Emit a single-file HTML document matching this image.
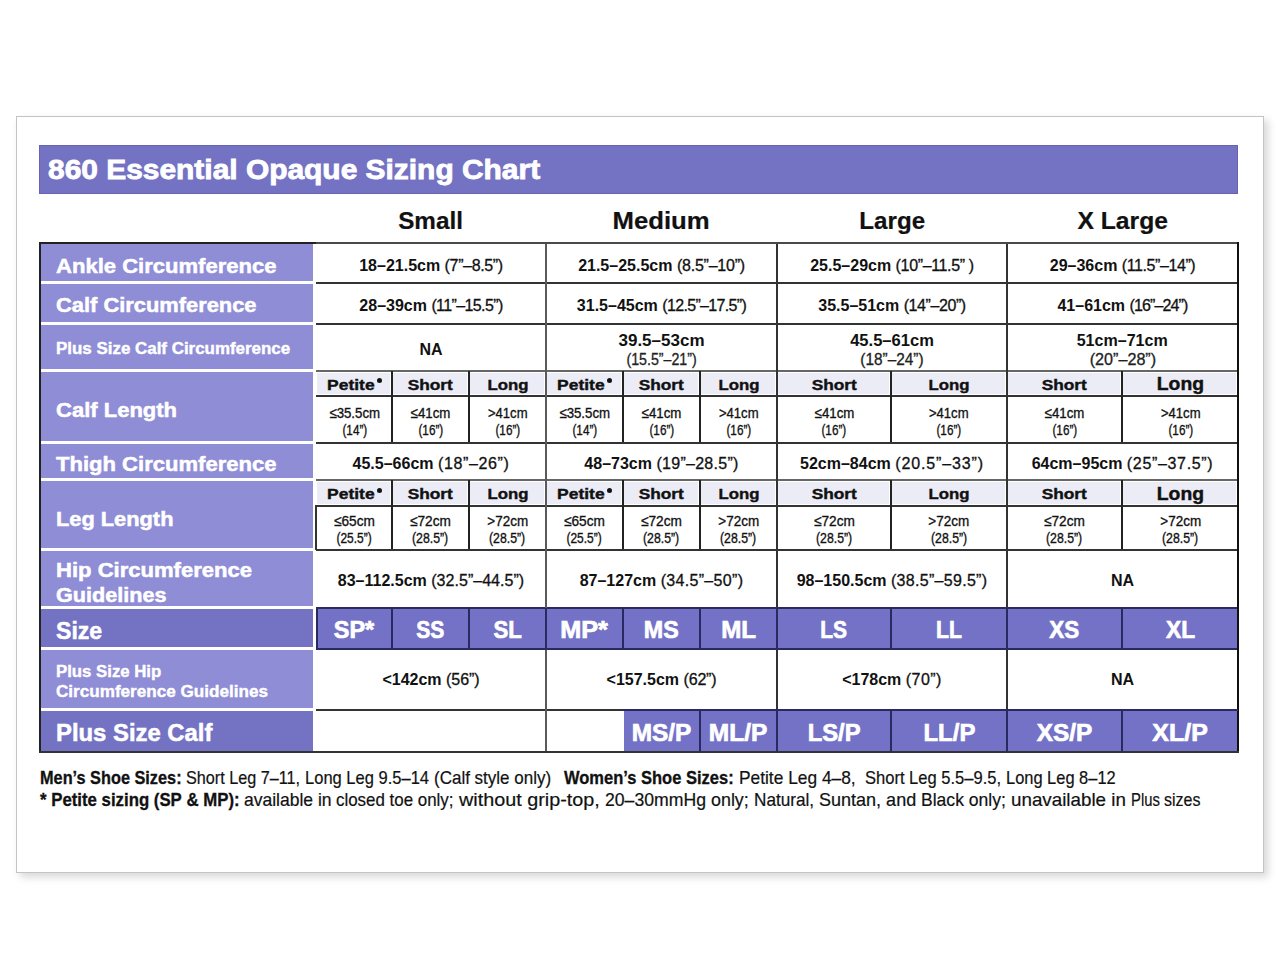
<!DOCTYPE html>
<html><head><meta charset="utf-8"><title>860 Essential Opaque Sizing Chart</title>
<style>
html,body{margin:0;padding:0;background:#fff;}
body{width:1280px;height:959px;position:relative;overflow:hidden;font-family:"Liberation Sans",sans-serif;}
.a{position:absolute;}
.t{white-space:nowrap;}
b{font-weight:700;}
</style></head><body>
<div class="a" style="left:16px;top:116px;width:1246px;height:755px;border:1px solid #c4c4c4;background:#fff;box-shadow:4px 4px 8px rgba(0,0,0,0.16);"></div>
<div class="a" style="left:39px;top:145px;width:1199px;height:49px;background:#7472c3;box-shadow:inset 0 0 0 1px #6664b2;"></div>
<div class="a t" style="left:47.50px;top:153.64px;font-size:27px;line-height:32px;font-weight:700;color:#fff;-webkit-text-stroke:0.8px #fff;"><span style="display:inline-block;letter-spacing:0.000px;transform:scaleX(1.1080);transform-origin:0 50%">860 Essential Opaque Sizing Chart</span></div>
<div class="a t" style="left:131.00px;top:206.04px;width:600px;text-align:center;font-size:24.4px;line-height:29px;font-weight:700;color:#111;-webkit-text-stroke:0.2px #111;"><span style="display:inline-block;letter-spacing:0.000px;text-indent:0.000px;transform:scaleX(0.9947);transform-origin:50% 50%">Small</span></div>
<div class="a t" style="left:361.50px;top:206.04px;width:600px;text-align:center;font-size:24.4px;line-height:29px;font-weight:700;color:#111;-webkit-text-stroke:0.2px #111;"><span style="display:inline-block;letter-spacing:0.000px;text-indent:0.000px;transform:scaleX(1.0548);transform-origin:50% 50%">Medium</span></div>
<div class="a t" style="left:592.00px;top:206.04px;width:600px;text-align:center;font-size:24.4px;line-height:29px;font-weight:700;color:#111;-webkit-text-stroke:0.2px #111;"><span style="display:inline-block;letter-spacing:0.000px;text-indent:0.000px;transform:scaleX(0.9897);transform-origin:50% 50%">Large</span></div>
<div class="a t" style="left:822.50px;top:206.04px;width:600px;text-align:center;font-size:24.4px;line-height:29px;font-weight:700;color:#111;-webkit-text-stroke:0.2px #111;"><span style="display:inline-block;letter-spacing:0.000px;text-indent:0.000px;transform:scaleX(1.0117);transform-origin:50% 50%">X Large</span></div>
<div class="a" style="left:41px;top:244px;width:272px;height:37px;background:#8f8dd6;"></div>
<div class="a" style="left:41px;top:284px;width:272px;height:38px;background:#8f8dd6;"></div>
<div class="a" style="left:41px;top:325px;width:272px;height:44px;background:#8f8dd6;"></div>
<div class="a" style="left:41px;top:372px;width:272px;height:69px;background:#8f8dd6;"></div>
<div class="a" style="left:41px;top:444px;width:272px;height:34px;background:#8f8dd6;"></div>
<div class="a" style="left:41px;top:481px;width:272px;height:67px;background:#8f8dd6;"></div>
<div class="a" style="left:41px;top:551px;width:272px;height:55px;background:#8f8dd6;"></div>
<div class="a" style="left:41px;top:609px;width:272px;height:38px;background:#7472c3;"></div>
<div class="a" style="left:41px;top:650px;width:272px;height:58px;background:#8f8dd6;"></div>
<div class="a" style="left:41px;top:711px;width:272px;height:40px;background:#7472c3;"></div>
<div class="a" style="left:317px;top:373px;width:73px;height:21px;background:#ececf7;"></div>
<div class="a" style="left:393px;top:373px;width:74px;height:21px;background:#ececf7;"></div>
<div class="a" style="left:470px;top:373px;width:74px;height:21px;background:#ececf7;"></div>
<div class="a" style="left:547px;top:373px;width:74px;height:21px;background:#ececf7;"></div>
<div class="a" style="left:624px;top:373px;width:74px;height:21px;background:#ececf7;"></div>
<div class="a" style="left:701px;top:373px;width:74px;height:21px;background:#ececf7;"></div>
<div class="a" style="left:778px;top:373px;width:111px;height:21px;background:#ececf7;"></div>
<div class="a" style="left:892px;top:373px;width:113px;height:21px;background:#ececf7;"></div>
<div class="a" style="left:1008px;top:373px;width:112px;height:21px;background:#ececf7;"></div>
<div class="a" style="left:1123px;top:373px;width:113px;height:21px;background:#ececf7;"></div>
<div class="a" style="left:317px;top:482px;width:73px;height:22px;background:#ececf7;"></div>
<div class="a" style="left:393px;top:482px;width:74px;height:22px;background:#ececf7;"></div>
<div class="a" style="left:470px;top:482px;width:74px;height:22px;background:#ececf7;"></div>
<div class="a" style="left:547px;top:482px;width:74px;height:22px;background:#ececf7;"></div>
<div class="a" style="left:624px;top:482px;width:74px;height:22px;background:#ececf7;"></div>
<div class="a" style="left:701px;top:482px;width:74px;height:22px;background:#ececf7;"></div>
<div class="a" style="left:778px;top:482px;width:111px;height:22px;background:#ececf7;"></div>
<div class="a" style="left:892px;top:482px;width:113px;height:22px;background:#ececf7;"></div>
<div class="a" style="left:1008px;top:482px;width:112px;height:22px;background:#ececf7;"></div>
<div class="a" style="left:1123px;top:482px;width:113px;height:22px;background:#ececf7;"></div>
<div class="a" style="left:317px;top:609px;width:74px;height:39px;background:#7472c6;"></div>
<div class="a" style="left:393px;top:609px;width:75px;height:39px;background:#7472c6;"></div>
<div class="a" style="left:470px;top:609px;width:75px;height:39px;background:#7472c6;"></div>
<div class="a" style="left:547px;top:609px;width:75px;height:39px;background:#7472c6;"></div>
<div class="a" style="left:624px;top:609px;width:75px;height:39px;background:#7472c6;"></div>
<div class="a" style="left:701px;top:609px;width:75px;height:39px;background:#7472c6;"></div>
<div class="a" style="left:778px;top:609px;width:112px;height:39px;background:#7472c6;"></div>
<div class="a" style="left:892px;top:609px;width:114px;height:39px;background:#7472c6;"></div>
<div class="a" style="left:1008px;top:609px;width:113px;height:39px;background:#7472c6;"></div>
<div class="a" style="left:1123px;top:609px;width:114px;height:39px;background:#7472c6;"></div>
<div class="a" style="left:624px;top:711px;width:75px;height:40px;background:#7472c6;"></div>
<div class="a" style="left:701px;top:711px;width:75px;height:40px;background:#7472c6;"></div>
<div class="a" style="left:778px;top:711px;width:112px;height:40px;background:#7472c6;"></div>
<div class="a" style="left:892px;top:711px;width:114px;height:40px;background:#7472c6;"></div>
<div class="a" style="left:1008px;top:711px;width:113px;height:40px;background:#7472c6;"></div>
<div class="a" style="left:1123px;top:711px;width:114px;height:40px;background:#7472c6;"></div>
<div class="a" style="left:316px;top:282px;width:922px;height:2px;background:#333;"></div>
<div class="a" style="left:316px;top:323px;width:922px;height:2px;background:#333;"></div>
<div class="a" style="left:316px;top:370px;width:922px;height:2px;background:#666;"></div>
<div class="a" style="left:316px;top:442px;width:922px;height:2px;background:#333;"></div>
<div class="a" style="left:316px;top:479px;width:922px;height:2px;background:#666;"></div>
<div class="a" style="left:316px;top:549px;width:922px;height:2px;background:#333;"></div>
<div class="a" style="left:316px;top:607px;width:922px;height:2px;background:#2a2960;"></div>
<div class="a" style="left:316px;top:648px;width:922px;height:2px;background:#2a2960;"></div>
<div class="a" style="left:316px;top:709px;width:922px;height:2px;background:#333;"></div>
<div class="a" style="left:316px;top:395px;width:922px;height:2px;background:#333;"></div>
<div class="a" style="left:316px;top:505px;width:922px;height:2px;background:#333;"></div>
<div class="a" style="left:39px;top:242px;width:277px;height:2px;background:#222;"></div>
<div class="a" style="left:316px;top:242px;width:922px;height:2px;background:#4a4a4a;"></div>
<div class="a" style="left:39px;top:242px;width:2px;height:511px;background:#222;"></div>
<div class="a" style="left:1237px;top:242px;width:2px;height:511px;background:#111;"></div>
<div class="a" style="left:39px;top:751px;width:1200px;height:2px;background:#333;"></div>
<div class="a" style="left:545px;top:244px;width:2px;height:507px;background:#5a5a5a;"></div>
<div class="a" style="left:776px;top:244px;width:2px;height:507px;background:#333;"></div>
<div class="a" style="left:1006px;top:244px;width:2px;height:507px;background:#333;"></div>
<div class="a" style="left:391px;top:371px;width:2px;height:71px;background:#222;"></div>
<div class="a" style="left:468px;top:371px;width:2px;height:71px;background:#222;"></div>
<div class="a" style="left:622px;top:371px;width:2px;height:71px;background:#222;"></div>
<div class="a" style="left:699px;top:371px;width:2px;height:71px;background:#222;"></div>
<div class="a" style="left:890px;top:371px;width:2px;height:71px;background:#222;"></div>
<div class="a" style="left:1121px;top:371px;width:2px;height:71px;background:#222;"></div>
<div class="a" style="left:391px;top:480px;width:2px;height:69px;background:#222;"></div>
<div class="a" style="left:468px;top:480px;width:2px;height:69px;background:#222;"></div>
<div class="a" style="left:622px;top:480px;width:2px;height:69px;background:#222;"></div>
<div class="a" style="left:699px;top:480px;width:2px;height:69px;background:#222;"></div>
<div class="a" style="left:890px;top:480px;width:2px;height:69px;background:#222;"></div>
<div class="a" style="left:1121px;top:480px;width:2px;height:69px;background:#222;"></div>
<div class="a" style="left:391px;top:608px;width:2px;height:42px;background:#2a2960;"></div>
<div class="a" style="left:468px;top:608px;width:2px;height:42px;background:#2a2960;"></div>
<div class="a" style="left:622px;top:608px;width:2px;height:42px;background:#2a2960;"></div>
<div class="a" style="left:699px;top:608px;width:2px;height:42px;background:#2a2960;"></div>
<div class="a" style="left:890px;top:608px;width:2px;height:42px;background:#2a2960;"></div>
<div class="a" style="left:1121px;top:608px;width:2px;height:42px;background:#2a2960;"></div>
<div class="a" style="left:699px;top:710px;width:2px;height:42px;background:#2a2960;"></div>
<div class="a" style="left:890px;top:710px;width:2px;height:42px;background:#2a2960;"></div>
<div class="a" style="left:1121px;top:710px;width:2px;height:42px;background:#2a2960;"></div>
<div class="a" style="left:622px;top:709px;width:616px;height:2px;background:#2a2960;"></div>
<div class="a" style="left:545px;top:608px;width:2px;height:42px;background:#2a2960;"></div>
<div class="a" style="left:776px;top:608px;width:2px;height:42px;background:#2a2960;"></div>
<div class="a" style="left:1006px;top:608px;width:2px;height:42px;background:#2a2960;"></div>
<div class="a" style="left:776px;top:710px;width:2px;height:42px;background:#2a2960;"></div>
<div class="a" style="left:1006px;top:710px;width:2px;height:42px;background:#2a2960;"></div>
<div class="a" style="left:315px;top:505px;width:2px;height:45px;background:#333;"></div>
<div class="a" style="left:316px;top:607px;width:2px;height:42px;background:#2a2960;"></div>
<div class="a t" style="left:56.00px;top:252.72px;font-size:21px;line-height:25px;font-weight:700;color:#fff;-webkit-text-stroke:0.5px #fff;"><span style="display:inline-block;letter-spacing:0.000px;transform:scaleX(1.0494);transform-origin:0 50%">Ankle Circumference</span></div>
<div class="a t" style="left:56.00px;top:292.22px;font-size:21px;line-height:25px;font-weight:700;color:#fff;-webkit-text-stroke:0.5px #fff;"><span style="display:inline-block;letter-spacing:0.000px;transform:scaleX(1.0411);transform-origin:0 50%">Calf Circumference</span></div>
<div class="a t" style="left:56.00px;top:339.02px;font-size:15.8px;line-height:19px;font-weight:700;color:#fff;-webkit-text-stroke:0.4px #fff;"><span style="display:inline-block;letter-spacing:0.000px;transform:scaleX(1.0713);transform-origin:0 50%">Plus Size Calf Circumference</span></div>
<div class="a t" style="left:56.00px;top:396.52px;font-size:21px;line-height:25px;font-weight:700;color:#fff;-webkit-text-stroke:0.5px #fff;"><span style="display:inline-block;letter-spacing:0.000px;transform:scaleX(1.0483);transform-origin:0 50%">Calf Length</span></div>
<div class="a t" style="left:56.00px;top:451.22px;font-size:21px;line-height:25px;font-weight:700;color:#fff;-webkit-text-stroke:0.5px #fff;"><span style="display:inline-block;letter-spacing:0.000px;transform:scaleX(1.0499);transform-origin:0 50%">Thigh Circumference</span></div>
<div class="a t" style="left:56.00px;top:505.52px;font-size:21px;line-height:25px;font-weight:700;color:#fff;-webkit-text-stroke:0.5px #fff;"><span style="display:inline-block;letter-spacing:0.000px;transform:scaleX(1.0379);transform-origin:0 50%">Leg Length</span></div>
<div class="a t" style="left:56.00px;top:558.47px;font-size:20px;line-height:24px;font-weight:700;color:#fff;-webkit-text-stroke:0.5px #fff;"><span style="display:inline-block;letter-spacing:0.000px;transform:scaleX(1.1021);transform-origin:0 50%">Hip Circumference</span></div>
<div class="a t" style="left:56.00px;top:582.97px;font-size:20px;line-height:24px;font-weight:700;color:#fff;-webkit-text-stroke:0.5px #fff;"><span style="display:inline-block;letter-spacing:0.000px;transform:scaleX(1.0808);transform-origin:0 50%">Guidelines</span></div>
<div class="a t" style="left:56.00px;top:616.01px;font-size:24.5px;line-height:29px;font-weight:700;color:#fff;-webkit-text-stroke:0.5px #fff;"><span style="display:inline-block;letter-spacing:0.000px;transform:scaleX(0.9414);transform-origin:0 50%">Size</span></div>
<div class="a t" style="left:56.00px;top:661.55px;font-size:16px;line-height:19px;font-weight:700;color:#fff;-webkit-text-stroke:0.4px #fff;"><span style="display:inline-block;letter-spacing:0.000px;transform:scaleX(1.0478);transform-origin:0 50%">Plus Size Hip</span></div>
<div class="a t" style="left:56.00px;top:682.35px;font-size:16px;line-height:19px;font-weight:700;color:#fff;-webkit-text-stroke:0.4px #fff;"><span style="display:inline-block;letter-spacing:0.000px;transform:scaleX(1.0688);transform-origin:0 50%">Circumference Guidelines</span></div>
<div class="a t" style="left:56.00px;top:718.92px;font-size:23.3px;line-height:28px;font-weight:700;color:#fff;-webkit-text-stroke:0.5px #fff;"><span style="display:inline-block;letter-spacing:0.000px;transform:scaleX(1.0238);transform-origin:0 50%">Plus Size Calf</span></div>
<div class="a t" style="left:131.00px;top:255.65px;width:600px;text-align:center;font-size:16px;line-height:19px;color:#111"><span style="font-weight:700;letter-spacing:0.000px;">18–21.5cm</span> <span style="font-weight:400;font-size:16px;letter-spacing:-0.352px;-webkit-text-stroke:0.3px #111;">(7”–8.5”)</span></div>
<div class="a t" style="left:361.50px;top:255.65px;width:600px;text-align:center;font-size:16px;line-height:19px;color:#111"><span style="font-weight:700;letter-spacing:0.000px;">21.5–25.5cm</span> <span style="font-weight:400;font-size:16px;letter-spacing:-0.229px;-webkit-text-stroke:0.3px #111;">(8.5”–10”)</span></div>
<div class="a t" style="left:592.00px;top:255.65px;width:600px;text-align:center;font-size:16px;line-height:19px;color:#111"><span style="font-weight:700;letter-spacing:0.000px;">25.5–29cm</span> <span style="font-weight:400;font-size:16px;letter-spacing:-0.351px;-webkit-text-stroke:0.3px #111;">(10”–11.5” )</span></div>
<div class="a t" style="left:822.50px;top:255.65px;width:600px;text-align:center;font-size:16px;line-height:19px;color:#111"><span style="font-weight:700;letter-spacing:0.000px;">29–36cm</span> <span style="font-weight:400;font-size:16px;letter-spacing:-0.410px;-webkit-text-stroke:0.3px #111;">(11.5”–14”)</span></div>
<div class="a t" style="left:131.00px;top:295.55px;width:600px;text-align:center;font-size:16px;line-height:19px;color:#111"><span style="font-weight:700;letter-spacing:0.000px;">28–39cm</span> <span style="font-weight:400;font-size:16px;letter-spacing:-0.610px;-webkit-text-stroke:0.3px #111;">(11”–15.5”)</span></div>
<div class="a t" style="left:361.50px;top:295.55px;width:600px;text-align:center;font-size:16px;line-height:19px;color:#111"><span style="font-weight:700;letter-spacing:0.000px;">31.5–45cm</span> <span style="font-weight:400;font-size:16px;letter-spacing:-0.662px;-webkit-text-stroke:0.3px #111;">(12.5”–17.5”)</span></div>
<div class="a t" style="left:592.00px;top:295.55px;width:600px;text-align:center;font-size:16px;line-height:19px;color:#111"><span style="font-weight:700;letter-spacing:0.000px;">35.5–51cm</span> <span style="font-weight:400;font-size:16px;letter-spacing:-0.412px;-webkit-text-stroke:0.3px #111;">(14”–20”)</span></div>
<div class="a t" style="left:822.50px;top:295.55px;width:600px;text-align:center;font-size:16px;line-height:19px;color:#111"><span style="font-weight:700;letter-spacing:0.000px;">41–61cm</span> <span style="font-weight:400;font-size:16px;letter-spacing:-0.867px;-webkit-text-stroke:0.3px #111;">(16”–24”)</span></div>
<div class="a t" style="left:131.00px;top:339.85px;width:600px;text-align:center;font-size:16px;line-height:19px;font-weight:700;color:#111;"><span style="display:inline-block;letter-spacing:0.000px;text-indent:0.000px;transform-origin:50% 50%">NA</span></div>
<div class="a t" style="left:361.50px;top:330.51px;width:600px;text-align:center;font-size:17px;line-height:20px;font-weight:700;color:#111;"><span style="display:inline-block;letter-spacing:0.000px;text-indent:0.000px;transform-origin:50% 50%">39.5–53cm</span></div>
<div class="a t" style="left:361.50px;top:349.75px;width:600px;text-align:center;font-size:16px;line-height:19px;font-weight:400;color:#222;-webkit-text-stroke:0.3px #222;"><span style="display:inline-block;letter-spacing:0.000px;text-indent:0.000px;transform:scaleX(0.8877);transform-origin:50% 50%">(15.5”–21”)</span></div>
<div class="a t" style="left:592.00px;top:330.51px;width:600px;text-align:center;font-size:17px;line-height:20px;font-weight:700;color:#111;"><span style="display:inline-block;letter-spacing:0.000px;text-indent:0.000px;transform:scaleX(0.9730);transform-origin:50% 50%">45.5–61cm</span></div>
<div class="a t" style="left:592.00px;top:349.75px;width:600px;text-align:center;font-size:16px;line-height:19px;font-weight:400;color:#222;-webkit-text-stroke:0.3px #222;"><span style="display:inline-block;letter-spacing:0.000px;text-indent:0.000px;transform:scaleX(0.9601);transform-origin:50% 50%">(18”–24”)</span></div>
<div class="a t" style="left:822.50px;top:330.51px;width:600px;text-align:center;font-size:17px;line-height:20px;font-weight:700;color:#111;"><span style="display:inline-block;letter-spacing:0.000px;text-indent:0.000px;transform:scaleX(0.9441);transform-origin:50% 50%">51cm–71cm</span></div>
<div class="a t" style="left:822.50px;top:349.75px;width:600px;text-align:center;font-size:16px;line-height:19px;font-weight:400;color:#222;-webkit-text-stroke:0.3px #222;"><span style="display:inline-block;letter-spacing:0.000px;text-indent:0.000px;transform:scaleX(1.0100);transform-origin:50% 50%">(20”–28”)</span></div>
<div class="a t" style="left:326.60px;top:374.53px;font-size:15.5px;line-height:19px;font-weight:700;color:#111;-webkit-text-stroke:0.4px #111;"><span style="display:inline-block;letter-spacing:0.000px;transform:scaleX(1.1281);transform-origin:0 50%">Petite</span></div>
<div class="a" style="left:376.70px;top:378.10px;width:5px;height:5px;border-radius:50%;background:#111"></div>
<div class="a t" style="left:130.50px;top:374.53px;width:600px;text-align:center;font-size:15.5px;line-height:19px;font-weight:700;color:#111;-webkit-text-stroke:0.4px #111;"><span style="display:inline-block;letter-spacing:0.000px;text-indent:0.000px;transform:scaleX(1.1161);transform-origin:50% 50%">Short</span></div>
<div class="a t" style="left:207.50px;top:374.53px;width:600px;text-align:center;font-size:15.5px;line-height:19px;font-weight:700;color:#111;-webkit-text-stroke:0.4px #111;"><span style="display:inline-block;letter-spacing:0.000px;text-indent:0.000px;transform:scaleX(1.0836);transform-origin:50% 50%">Long</span></div>
<div class="a t" style="left:556.80px;top:374.53px;font-size:15.5px;line-height:19px;font-weight:700;color:#111;-webkit-text-stroke:0.4px #111;"><span style="display:inline-block;letter-spacing:0.000px;transform:scaleX(1.1281);transform-origin:0 50%">Petite</span></div>
<div class="a" style="left:606.90px;top:378.10px;width:5px;height:5px;border-radius:50%;background:#111"></div>
<div class="a t" style="left:361.50px;top:374.53px;width:600px;text-align:center;font-size:15.5px;line-height:19px;font-weight:700;color:#111;-webkit-text-stroke:0.4px #111;"><span style="display:inline-block;letter-spacing:0.000px;text-indent:0.000px;transform:scaleX(1.1161);transform-origin:50% 50%">Short</span></div>
<div class="a t" style="left:438.50px;top:374.53px;width:600px;text-align:center;font-size:15.5px;line-height:19px;font-weight:700;color:#111;-webkit-text-stroke:0.4px #111;"><span style="display:inline-block;letter-spacing:0.000px;text-indent:0.000px;transform:scaleX(1.0836);transform-origin:50% 50%">Long</span></div>
<div class="a t" style="left:534.00px;top:374.53px;width:600px;text-align:center;font-size:15.5px;line-height:19px;font-weight:700;color:#111;-webkit-text-stroke:0.4px #111;"><span style="display:inline-block;letter-spacing:0.000px;text-indent:0.000px;transform:scaleX(1.1161);transform-origin:50% 50%">Short</span></div>
<div class="a t" style="left:649.00px;top:374.53px;width:600px;text-align:center;font-size:15.5px;line-height:19px;font-weight:700;color:#111;-webkit-text-stroke:0.4px #111;"><span style="display:inline-block;letter-spacing:0.000px;text-indent:0.000px;transform:scaleX(1.0836);transform-origin:50% 50%">Long</span></div>
<div class="a t" style="left:764.50px;top:374.53px;width:600px;text-align:center;font-size:15.5px;line-height:19px;font-weight:700;color:#111;-webkit-text-stroke:0.4px #111;"><span style="display:inline-block;letter-spacing:0.000px;text-indent:0.000px;transform:scaleX(1.1161);transform-origin:50% 50%">Short</span></div>
<div class="a t" style="left:880.50px;top:374.33px;width:600px;text-align:center;font-size:17.5px;line-height:21px;font-weight:700;color:#111;-webkit-text-stroke:0.4px #111;"><span style="display:inline-block;letter-spacing:0.000px;text-indent:0.000px;transform:scaleX(1.1045);transform-origin:50% 50%">Long</span></div>
<div class="a t" style="left:326.60px;top:484.43px;font-size:15.5px;line-height:19px;font-weight:700;color:#111;-webkit-text-stroke:0.4px #111;"><span style="display:inline-block;letter-spacing:0.000px;transform:scaleX(1.1281);transform-origin:0 50%">Petite</span></div>
<div class="a" style="left:376.70px;top:488.00px;width:5px;height:5px;border-radius:50%;background:#111"></div>
<div class="a t" style="left:130.50px;top:484.43px;width:600px;text-align:center;font-size:15.5px;line-height:19px;font-weight:700;color:#111;-webkit-text-stroke:0.4px #111;"><span style="display:inline-block;letter-spacing:0.000px;text-indent:0.000px;transform:scaleX(1.1161);transform-origin:50% 50%">Short</span></div>
<div class="a t" style="left:207.50px;top:484.43px;width:600px;text-align:center;font-size:15.5px;line-height:19px;font-weight:700;color:#111;-webkit-text-stroke:0.4px #111;"><span style="display:inline-block;letter-spacing:0.000px;text-indent:0.000px;transform:scaleX(1.0836);transform-origin:50% 50%">Long</span></div>
<div class="a t" style="left:556.80px;top:484.43px;font-size:15.5px;line-height:19px;font-weight:700;color:#111;-webkit-text-stroke:0.4px #111;"><span style="display:inline-block;letter-spacing:0.000px;transform:scaleX(1.1281);transform-origin:0 50%">Petite</span></div>
<div class="a" style="left:606.90px;top:488.00px;width:5px;height:5px;border-radius:50%;background:#111"></div>
<div class="a t" style="left:361.50px;top:484.43px;width:600px;text-align:center;font-size:15.5px;line-height:19px;font-weight:700;color:#111;-webkit-text-stroke:0.4px #111;"><span style="display:inline-block;letter-spacing:0.000px;text-indent:0.000px;transform:scaleX(1.1161);transform-origin:50% 50%">Short</span></div>
<div class="a t" style="left:438.50px;top:484.43px;width:600px;text-align:center;font-size:15.5px;line-height:19px;font-weight:700;color:#111;-webkit-text-stroke:0.4px #111;"><span style="display:inline-block;letter-spacing:0.000px;text-indent:0.000px;transform:scaleX(1.0836);transform-origin:50% 50%">Long</span></div>
<div class="a t" style="left:534.00px;top:484.43px;width:600px;text-align:center;font-size:15.5px;line-height:19px;font-weight:700;color:#111;-webkit-text-stroke:0.4px #111;"><span style="display:inline-block;letter-spacing:0.000px;text-indent:0.000px;transform:scaleX(1.1161);transform-origin:50% 50%">Short</span></div>
<div class="a t" style="left:649.00px;top:484.43px;width:600px;text-align:center;font-size:15.5px;line-height:19px;font-weight:700;color:#111;-webkit-text-stroke:0.4px #111;"><span style="display:inline-block;letter-spacing:0.000px;text-indent:0.000px;transform:scaleX(1.0836);transform-origin:50% 50%">Long</span></div>
<div class="a t" style="left:764.50px;top:484.43px;width:600px;text-align:center;font-size:15.5px;line-height:19px;font-weight:700;color:#111;-webkit-text-stroke:0.4px #111;"><span style="display:inline-block;letter-spacing:0.000px;text-indent:0.000px;transform:scaleX(1.1161);transform-origin:50% 50%">Short</span></div>
<div class="a t" style="left:880.50px;top:484.23px;width:600px;text-align:center;font-size:17.5px;line-height:21px;font-weight:700;color:#111;-webkit-text-stroke:0.4px #111;"><span style="display:inline-block;letter-spacing:0.000px;text-indent:0.000px;transform:scaleX(1.1045);transform-origin:50% 50%">Long</span></div>
<div class="a t" style="left:54.50px;top:403.90px;width:600px;text-align:center;font-size:15px;line-height:18px;font-weight:400;color:#111;-webkit-text-stroke:0.35px #111;"><span style="display:inline-block;letter-spacing:0.000px;text-indent:0.000px;transform:scaleX(0.8824);transform-origin:50% 50%">≤35.5cm</span></div>
<div class="a t" style="left:54.50px;top:421.40px;width:600px;text-align:center;font-size:15px;line-height:18px;font-weight:400;color:#111;-webkit-text-stroke:0.35px #111;"><span style="display:inline-block;letter-spacing:0.000px;text-indent:0.000px;transform:scaleX(0.7812);transform-origin:50% 50%">(14”)</span></div>
<div class="a t" style="left:130.50px;top:403.90px;width:600px;text-align:center;font-size:15px;line-height:18px;font-weight:400;color:#111;-webkit-text-stroke:0.35px #111;"><span style="display:inline-block;letter-spacing:0.000px;text-indent:0.000px;transform:scaleX(0.8835);transform-origin:50% 50%">≤41cm</span></div>
<div class="a t" style="left:130.50px;top:421.40px;width:600px;text-align:center;font-size:15px;line-height:18px;font-weight:400;color:#111;-webkit-text-stroke:0.35px #111;"><span style="display:inline-block;letter-spacing:0.000px;text-indent:0.000px;transform:scaleX(0.7812);transform-origin:50% 50%">(16”)</span></div>
<div class="a t" style="left:207.50px;top:403.90px;width:600px;text-align:center;font-size:15px;line-height:18px;font-weight:400;color:#111;-webkit-text-stroke:0.35px #111;"><span style="display:inline-block;letter-spacing:0.000px;text-indent:0.000px;transform:scaleX(0.8734);transform-origin:50% 50%">>41cm</span></div>
<div class="a t" style="left:207.50px;top:421.40px;width:600px;text-align:center;font-size:15px;line-height:18px;font-weight:400;color:#111;-webkit-text-stroke:0.35px #111;"><span style="display:inline-block;letter-spacing:0.000px;text-indent:0.000px;transform:scaleX(0.7812);transform-origin:50% 50%">(16”)</span></div>
<div class="a t" style="left:284.50px;top:403.90px;width:600px;text-align:center;font-size:15px;line-height:18px;font-weight:400;color:#111;-webkit-text-stroke:0.35px #111;"><span style="display:inline-block;letter-spacing:0.000px;text-indent:0.000px;transform:scaleX(0.8824);transform-origin:50% 50%">≤35.5cm</span></div>
<div class="a t" style="left:284.50px;top:421.40px;width:600px;text-align:center;font-size:15px;line-height:18px;font-weight:400;color:#111;-webkit-text-stroke:0.35px #111;"><span style="display:inline-block;letter-spacing:0.000px;text-indent:0.000px;transform:scaleX(0.7812);transform-origin:50% 50%">(14”)</span></div>
<div class="a t" style="left:361.50px;top:403.90px;width:600px;text-align:center;font-size:15px;line-height:18px;font-weight:400;color:#111;-webkit-text-stroke:0.35px #111;"><span style="display:inline-block;letter-spacing:0.000px;text-indent:0.000px;transform:scaleX(0.8835);transform-origin:50% 50%">≤41cm</span></div>
<div class="a t" style="left:361.50px;top:421.40px;width:600px;text-align:center;font-size:15px;line-height:18px;font-weight:400;color:#111;-webkit-text-stroke:0.35px #111;"><span style="display:inline-block;letter-spacing:0.000px;text-indent:0.000px;transform:scaleX(0.7812);transform-origin:50% 50%">(16”)</span></div>
<div class="a t" style="left:438.50px;top:403.90px;width:600px;text-align:center;font-size:15px;line-height:18px;font-weight:400;color:#111;-webkit-text-stroke:0.35px #111;"><span style="display:inline-block;letter-spacing:0.000px;text-indent:0.000px;transform:scaleX(0.8734);transform-origin:50% 50%">>41cm</span></div>
<div class="a t" style="left:438.50px;top:421.40px;width:600px;text-align:center;font-size:15px;line-height:18px;font-weight:400;color:#111;-webkit-text-stroke:0.35px #111;"><span style="display:inline-block;letter-spacing:0.000px;text-indent:0.000px;transform:scaleX(0.7812);transform-origin:50% 50%">(16”)</span></div>
<div class="a t" style="left:534.00px;top:403.90px;width:600px;text-align:center;font-size:15px;line-height:18px;font-weight:400;color:#111;-webkit-text-stroke:0.35px #111;"><span style="display:inline-block;letter-spacing:0.000px;text-indent:0.000px;transform:scaleX(0.8835);transform-origin:50% 50%">≤41cm</span></div>
<div class="a t" style="left:534.00px;top:421.40px;width:600px;text-align:center;font-size:15px;line-height:18px;font-weight:400;color:#111;-webkit-text-stroke:0.35px #111;"><span style="display:inline-block;letter-spacing:0.000px;text-indent:0.000px;transform:scaleX(0.7812);transform-origin:50% 50%">(16”)</span></div>
<div class="a t" style="left:649.00px;top:403.90px;width:600px;text-align:center;font-size:15px;line-height:18px;font-weight:400;color:#111;-webkit-text-stroke:0.35px #111;"><span style="display:inline-block;letter-spacing:0.000px;text-indent:0.000px;transform:scaleX(0.8734);transform-origin:50% 50%">>41cm</span></div>
<div class="a t" style="left:649.00px;top:421.40px;width:600px;text-align:center;font-size:15px;line-height:18px;font-weight:400;color:#111;-webkit-text-stroke:0.35px #111;"><span style="display:inline-block;letter-spacing:0.000px;text-indent:0.000px;transform:scaleX(0.7812);transform-origin:50% 50%">(16”)</span></div>
<div class="a t" style="left:764.50px;top:403.90px;width:600px;text-align:center;font-size:15px;line-height:18px;font-weight:400;color:#111;-webkit-text-stroke:0.35px #111;"><span style="display:inline-block;letter-spacing:0.000px;text-indent:0.000px;transform:scaleX(0.8835);transform-origin:50% 50%">≤41cm</span></div>
<div class="a t" style="left:764.50px;top:421.40px;width:600px;text-align:center;font-size:15px;line-height:18px;font-weight:400;color:#111;-webkit-text-stroke:0.35px #111;"><span style="display:inline-block;letter-spacing:0.000px;text-indent:0.000px;transform:scaleX(0.7812);transform-origin:50% 50%">(16”)</span></div>
<div class="a t" style="left:880.50px;top:403.90px;width:600px;text-align:center;font-size:15px;line-height:18px;font-weight:400;color:#111;-webkit-text-stroke:0.35px #111;"><span style="display:inline-block;letter-spacing:0.000px;text-indent:0.000px;transform:scaleX(0.8734);transform-origin:50% 50%">>41cm</span></div>
<div class="a t" style="left:880.50px;top:421.40px;width:600px;text-align:center;font-size:15px;line-height:18px;font-weight:400;color:#111;-webkit-text-stroke:0.35px #111;"><span style="display:inline-block;letter-spacing:0.000px;text-indent:0.000px;transform:scaleX(0.7812);transform-origin:50% 50%">(16”)</span></div>
<div class="a t" style="left:54.50px;top:511.90px;width:600px;text-align:center;font-size:15px;line-height:18px;font-weight:400;color:#111;-webkit-text-stroke:0.35px #111;"><span style="display:inline-block;letter-spacing:0.000px;text-indent:0.000px;transform:scaleX(0.9100);transform-origin:50% 50%">≤65cm</span></div>
<div class="a t" style="left:54.50px;top:529.40px;width:600px;text-align:center;font-size:15px;line-height:18px;font-weight:400;color:#111;-webkit-text-stroke:0.35px #111;"><span style="display:inline-block;letter-spacing:0.000px;text-indent:0.000px;transform:scaleX(0.7996);transform-origin:50% 50%">(25.5”)</span></div>
<div class="a t" style="left:130.50px;top:511.90px;width:600px;text-align:center;font-size:15px;line-height:18px;font-weight:400;color:#111;-webkit-text-stroke:0.35px #111;"><span style="display:inline-block;letter-spacing:0.000px;text-indent:0.000px;transform:scaleX(0.9100);transform-origin:50% 50%">≤72cm</span></div>
<div class="a t" style="left:130.50px;top:529.40px;width:600px;text-align:center;font-size:15px;line-height:18px;font-weight:400;color:#111;-webkit-text-stroke:0.35px #111;"><span style="display:inline-block;letter-spacing:0.000px;text-indent:0.000px;transform:scaleX(0.8198);transform-origin:50% 50%">(28.5”)</span></div>
<div class="a t" style="left:207.50px;top:511.90px;width:600px;text-align:center;font-size:15px;line-height:18px;font-weight:400;color:#111;-webkit-text-stroke:0.35px #111;"><span style="display:inline-block;letter-spacing:0.000px;text-indent:0.000px;transform:scaleX(0.8996);transform-origin:50% 50%">>72cm</span></div>
<div class="a t" style="left:207.50px;top:529.40px;width:600px;text-align:center;font-size:15px;line-height:18px;font-weight:400;color:#111;-webkit-text-stroke:0.35px #111;"><span style="display:inline-block;letter-spacing:0.000px;text-indent:0.000px;transform:scaleX(0.8198);transform-origin:50% 50%">(28.5”)</span></div>
<div class="a t" style="left:284.50px;top:511.90px;width:600px;text-align:center;font-size:15px;line-height:18px;font-weight:400;color:#111;-webkit-text-stroke:0.35px #111;"><span style="display:inline-block;letter-spacing:0.000px;text-indent:0.000px;transform:scaleX(0.9100);transform-origin:50% 50%">≤65cm</span></div>
<div class="a t" style="left:284.50px;top:529.40px;width:600px;text-align:center;font-size:15px;line-height:18px;font-weight:400;color:#111;-webkit-text-stroke:0.35px #111;"><span style="display:inline-block;letter-spacing:0.000px;text-indent:0.000px;transform:scaleX(0.7996);transform-origin:50% 50%">(25.5”)</span></div>
<div class="a t" style="left:361.50px;top:511.90px;width:600px;text-align:center;font-size:15px;line-height:18px;font-weight:400;color:#111;-webkit-text-stroke:0.35px #111;"><span style="display:inline-block;letter-spacing:0.000px;text-indent:0.000px;transform:scaleX(0.9100);transform-origin:50% 50%">≤72cm</span></div>
<div class="a t" style="left:361.50px;top:529.40px;width:600px;text-align:center;font-size:15px;line-height:18px;font-weight:400;color:#111;-webkit-text-stroke:0.35px #111;"><span style="display:inline-block;letter-spacing:0.000px;text-indent:0.000px;transform:scaleX(0.8198);transform-origin:50% 50%">(28.5”)</span></div>
<div class="a t" style="left:438.50px;top:511.90px;width:600px;text-align:center;font-size:15px;line-height:18px;font-weight:400;color:#111;-webkit-text-stroke:0.35px #111;"><span style="display:inline-block;letter-spacing:0.000px;text-indent:0.000px;transform:scaleX(0.8996);transform-origin:50% 50%">>72cm</span></div>
<div class="a t" style="left:438.50px;top:529.40px;width:600px;text-align:center;font-size:15px;line-height:18px;font-weight:400;color:#111;-webkit-text-stroke:0.35px #111;"><span style="display:inline-block;letter-spacing:0.000px;text-indent:0.000px;transform:scaleX(0.8198);transform-origin:50% 50%">(28.5”)</span></div>
<div class="a t" style="left:534.00px;top:511.90px;width:600px;text-align:center;font-size:15px;line-height:18px;font-weight:400;color:#111;-webkit-text-stroke:0.35px #111;"><span style="display:inline-block;letter-spacing:0.000px;text-indent:0.000px;transform:scaleX(0.9100);transform-origin:50% 50%">≤72cm</span></div>
<div class="a t" style="left:534.00px;top:529.40px;width:600px;text-align:center;font-size:15px;line-height:18px;font-weight:400;color:#111;-webkit-text-stroke:0.35px #111;"><span style="display:inline-block;letter-spacing:0.000px;text-indent:0.000px;transform:scaleX(0.8198);transform-origin:50% 50%">(28.5”)</span></div>
<div class="a t" style="left:649.00px;top:511.90px;width:600px;text-align:center;font-size:15px;line-height:18px;font-weight:400;color:#111;-webkit-text-stroke:0.35px #111;"><span style="display:inline-block;letter-spacing:0.000px;text-indent:0.000px;transform:scaleX(0.8996);transform-origin:50% 50%">>72cm</span></div>
<div class="a t" style="left:649.00px;top:529.40px;width:600px;text-align:center;font-size:15px;line-height:18px;font-weight:400;color:#111;-webkit-text-stroke:0.35px #111;"><span style="display:inline-block;letter-spacing:0.000px;text-indent:0.000px;transform:scaleX(0.8198);transform-origin:50% 50%">(28.5”)</span></div>
<div class="a t" style="left:764.50px;top:511.90px;width:600px;text-align:center;font-size:15px;line-height:18px;font-weight:400;color:#111;-webkit-text-stroke:0.35px #111;"><span style="display:inline-block;letter-spacing:0.000px;text-indent:0.000px;transform:scaleX(0.9100);transform-origin:50% 50%">≤72cm</span></div>
<div class="a t" style="left:764.50px;top:529.40px;width:600px;text-align:center;font-size:15px;line-height:18px;font-weight:400;color:#111;-webkit-text-stroke:0.35px #111;"><span style="display:inline-block;letter-spacing:0.000px;text-indent:0.000px;transform:scaleX(0.8198);transform-origin:50% 50%">(28.5”)</span></div>
<div class="a t" style="left:880.50px;top:511.90px;width:600px;text-align:center;font-size:15px;line-height:18px;font-weight:400;color:#111;-webkit-text-stroke:0.35px #111;"><span style="display:inline-block;letter-spacing:0.000px;text-indent:0.000px;transform:scaleX(0.8996);transform-origin:50% 50%">>72cm</span></div>
<div class="a t" style="left:880.50px;top:529.40px;width:600px;text-align:center;font-size:15px;line-height:18px;font-weight:400;color:#111;-webkit-text-stroke:0.35px #111;"><span style="display:inline-block;letter-spacing:0.000px;text-indent:0.000px;transform:scaleX(0.8198);transform-origin:50% 50%">(28.5”)</span></div>
<div class="a t" style="left:131.00px;top:453.55px;width:600px;text-align:center;font-size:16px;line-height:19px;color:#111"><span style="font-weight:700;letter-spacing:0.000px;">45.5–66cm</span> <span style="font-weight:400;font-size:16px;letter-spacing:0.625px;-webkit-text-stroke:0.3px #111;">(18”–26”)</span></div>
<div class="a t" style="left:361.50px;top:453.55px;width:600px;text-align:center;font-size:16px;line-height:19px;color:#111"><span style="font-weight:700;letter-spacing:0.000px;">48–73cm</span> <span style="font-weight:400;font-size:16px;letter-spacing:0.278px;-webkit-text-stroke:0.3px #111;">(19”–28.5”)</span></div>
<div class="a t" style="left:592.00px;top:453.55px;width:600px;text-align:center;font-size:16px;line-height:19px;color:#111"><span style="font-weight:700;letter-spacing:0.000px;">52cm–84cm</span> <span style="font-weight:400;font-size:16px;letter-spacing:0.866px;-webkit-text-stroke:0.3px #111;">(20.5”–33”)</span></div>
<div class="a t" style="left:822.50px;top:453.55px;width:600px;text-align:center;font-size:16px;line-height:19px;color:#111"><span style="font-weight:700;letter-spacing:0.000px;">64cm–95cm</span> <span style="font-weight:400;font-size:16px;letter-spacing:0.666px;-webkit-text-stroke:0.3px #111;">(25”–37.5”)</span></div>
<div class="a t" style="left:131.00px;top:571.05px;width:600px;text-align:center;font-size:16px;line-height:19px;color:#111"><span style="font-weight:700;letter-spacing:0.000px;">83–112.5cm</span> <span style="font-weight:400;font-size:16px;letter-spacing:0.038px;-webkit-text-stroke:0.3px #111;">(32.5”–44.5”)</span></div>
<div class="a t" style="left:361.50px;top:571.05px;width:600px;text-align:center;font-size:16px;line-height:19px;color:#111"><span style="font-weight:700;letter-spacing:0.000px;">87–127cm</span> <span style="font-weight:400;font-size:16px;letter-spacing:0.320px;-webkit-text-stroke:0.3px #111;">(34.5”–50”)</span></div>
<div class="a t" style="left:592.00px;top:571.05px;width:600px;text-align:center;font-size:16px;line-height:19px;color:#111"><span style="font-weight:700;letter-spacing:0.000px;">98–150.5cm</span> <span style="font-weight:400;font-size:16px;letter-spacing:0.298px;-webkit-text-stroke:0.3px #111;">(38.5”–59.5”)</span></div>
<div class="a t" style="left:822.50px;top:571.05px;width:600px;text-align:center;font-size:16px;line-height:19px;font-weight:700;color:#111;"><span style="display:inline-block;letter-spacing:0.000px;text-indent:0.000px;transform-origin:50% 50%">NA</span></div>
<div class="a t" style="left:54.50px;top:614.64px;width:600px;text-align:center;font-size:24.4px;line-height:29px;font-weight:700;color:#fff;-webkit-text-stroke:0.7px #fff;"><span style="display:inline-block;letter-spacing:0.000px;text-indent:0.000px;transform:scaleX(0.9628);transform-origin:50% 50%">SP*</span></div>
<div class="a t" style="left:130.50px;top:614.64px;width:600px;text-align:center;font-size:24.4px;line-height:29px;font-weight:700;color:#fff;-webkit-text-stroke:0.7px #fff;"><span style="display:inline-block;letter-spacing:0.000px;text-indent:0.000px;transform:scaleX(0.8640);transform-origin:50% 50%">SS</span></div>
<div class="a t" style="left:207.50px;top:614.64px;width:600px;text-align:center;font-size:24.4px;line-height:29px;font-weight:700;color:#fff;-webkit-text-stroke:0.7px #fff;"><span style="display:inline-block;letter-spacing:0.000px;text-indent:0.000px;transform:scaleX(0.9082);transform-origin:50% 50%">SL</span></div>
<div class="a t" style="left:284.50px;top:614.64px;width:600px;text-align:center;font-size:24.4px;line-height:29px;font-weight:700;color:#fff;-webkit-text-stroke:0.7px #fff;"><span style="display:inline-block;letter-spacing:0.000px;text-indent:0.000px;transform:scaleX(1.0360);transform-origin:50% 50%">MP*</span></div>
<div class="a t" style="left:361.50px;top:614.64px;width:600px;text-align:center;font-size:24.4px;line-height:29px;font-weight:700;color:#fff;-webkit-text-stroke:0.7px #fff;"><span style="display:inline-block;letter-spacing:0.000px;text-indent:0.000px;transform:scaleX(0.9544);transform-origin:50% 50%">MS</span></div>
<div class="a t" style="left:438.50px;top:614.64px;width:600px;text-align:center;font-size:24.4px;line-height:29px;font-weight:700;color:#fff;-webkit-text-stroke:0.7px #fff;"><span style="display:inline-block;letter-spacing:0.000px;text-indent:0.000px;transform:scaleX(0.9900);transform-origin:50% 50%">ML</span></div>
<div class="a t" style="left:534.00px;top:614.64px;width:600px;text-align:center;font-size:24.4px;line-height:29px;font-weight:700;color:#fff;-webkit-text-stroke:0.7px #fff;"><span style="display:inline-block;letter-spacing:0.000px;text-indent:0.000px;transform:scaleX(0.8612);transform-origin:50% 50%">LS</span></div>
<div class="a t" style="left:649.00px;top:614.64px;width:600px;text-align:center;font-size:24.4px;line-height:29px;font-weight:700;color:#fff;-webkit-text-stroke:0.7px #fff;"><span style="display:inline-block;letter-spacing:0.000px;text-indent:0.000px;transform:scaleX(0.8665);transform-origin:50% 50%">LL</span></div>
<div class="a t" style="left:764.50px;top:614.64px;width:600px;text-align:center;font-size:24.4px;line-height:29px;font-weight:700;color:#fff;-webkit-text-stroke:0.7px #fff;"><span style="display:inline-block;letter-spacing:0.000px;text-indent:0.000px;transform:scaleX(0.9196);transform-origin:50% 50%">XS</span></div>
<div class="a t" style="left:880.50px;top:614.64px;width:600px;text-align:center;font-size:24.4px;line-height:29px;font-weight:700;color:#fff;-webkit-text-stroke:0.7px #fff;"><span style="display:inline-block;letter-spacing:0.000px;text-indent:0.000px;transform:scaleX(0.9332);transform-origin:50% 50%">XL</span></div>
<div class="a t" style="left:131.00px;top:670.35px;width:600px;text-align:center;font-size:16px;line-height:19px;color:#111"><span style="font-weight:700;letter-spacing:0.000px;"><142cm</span> <span style="font-weight:400;font-size:16px;letter-spacing:-0.040px;-webkit-text-stroke:0.3px #111;">(56”)</span></div>
<div class="a t" style="left:361.50px;top:670.35px;width:600px;text-align:center;font-size:16px;line-height:19px;color:#111"><span style="font-weight:700;letter-spacing:0.000px;"><157.5cm</span> <span style="font-weight:400;font-size:16px;letter-spacing:-0.185px;-webkit-text-stroke:0.3px #111;">(62”)</span></div>
<div class="a t" style="left:592.00px;top:670.35px;width:600px;text-align:center;font-size:16px;line-height:19px;color:#111"><span style="font-weight:700;letter-spacing:0.000px;"><178cm</span> <span style="font-weight:400;font-size:16px;letter-spacing:0.460px;-webkit-text-stroke:0.3px #111;">(70”)</span></div>
<div class="a t" style="left:822.50px;top:670.35px;width:600px;text-align:center;font-size:16px;line-height:19px;font-weight:700;color:#111;"><span style="display:inline-block;letter-spacing:0.000px;text-indent:0.000px;transform-origin:50% 50%">NA</span></div>
<div class="a t" style="left:361.50px;top:717.54px;width:600px;text-align:center;font-size:24.4px;line-height:29px;font-weight:700;color:#fff;-webkit-text-stroke:0.7px #fff;"><span style="display:inline-block;letter-spacing:0.000px;text-indent:0.000px;transform-origin:50% 50%">MS/P</span></div>
<div class="a t" style="left:438.50px;top:717.54px;width:600px;text-align:center;font-size:24.4px;line-height:29px;font-weight:700;color:#fff;-webkit-text-stroke:0.7px #fff;"><span style="display:inline-block;letter-spacing:0.000px;text-indent:0.000px;transform:scaleX(1.0048);transform-origin:50% 50%">ML/P</span></div>
<div class="a t" style="left:534.00px;top:717.54px;width:600px;text-align:center;font-size:24.4px;line-height:29px;font-weight:700;color:#fff;-webkit-text-stroke:0.7px #fff;"><span style="display:inline-block;letter-spacing:0.000px;text-indent:0.000px;transform:scaleX(0.9747);transform-origin:50% 50%">LS/P</span></div>
<div class="a t" style="left:649.00px;top:717.54px;width:600px;text-align:center;font-size:24.4px;line-height:29px;font-weight:700;color:#fff;-webkit-text-stroke:0.7px #fff;"><span style="display:inline-block;letter-spacing:0.000px;text-indent:0.000px;transform:scaleX(0.9808);transform-origin:50% 50%">LL/P</span></div>
<div class="a t" style="left:764.50px;top:717.54px;width:600px;text-align:center;font-size:24.4px;line-height:29px;font-weight:700;color:#fff;-webkit-text-stroke:0.7px #fff;"><span style="display:inline-block;letter-spacing:0.000px;text-indent:0.000px;transform-origin:50% 50%">XS/P</span></div>
<div class="a t" style="left:880.50px;top:717.54px;width:600px;text-align:center;font-size:24.4px;line-height:29px;font-weight:700;color:#fff;-webkit-text-stroke:0.7px #fff;"><span style="display:inline-block;letter-spacing:0.000px;text-indent:0.000px;transform:scaleX(1.0238);transform-origin:50% 50%">XL/P</span></div>
<div class="a t" style="left:40.00px;top:767.73px;font-size:17.8px;line-height:21px;font-weight:700;color:#111;-webkit-text-stroke:0.3px #111;transform:scaleX(0.9164);transform-origin:0 50%">Men’s&nbsp;Shoe&nbsp;Sizes:&nbsp;</div>
<div class="a t" style="left:186.25px;top:767.73px;font-size:17.8px;line-height:21px;font-weight:400;color:#111;-webkit-text-stroke:0.2px #111;transform:scaleX(0.9113);transform-origin:0 50%">Short&nbsp;Leg&nbsp;7–11,&nbsp;</div>
<div class="a t" style="left:305.00px;top:767.73px;font-size:17.8px;line-height:21px;font-weight:400;color:#111;-webkit-text-stroke:0.2px #111;transform:scaleX(0.9291);transform-origin:0 50%">Long&nbsp;Leg&nbsp;9.5–14&nbsp;</div>
<div class="a t" style="left:433.75px;top:767.73px;font-size:17.8px;line-height:21px;font-weight:400;color:#111;-webkit-text-stroke:0.2px #111;transform:scaleX(0.9560);transform-origin:0 50%">(Calf&nbsp;style&nbsp;only)</div>
<div class="a t" style="left:564.40px;top:767.73px;font-size:17.8px;line-height:21px;font-weight:700;color:#111;-webkit-text-stroke:0.3px #111;transform:scaleX(0.9280);transform-origin:0 50%">Women’s&nbsp;Shoe&nbsp;Sizes:&nbsp;</div>
<div class="a t" style="left:738.80px;top:767.73px;font-size:17.8px;line-height:21px;font-weight:400;color:#111;-webkit-text-stroke:0.2px #111;transform:scaleX(0.9750);transform-origin:0 50%">Petite&nbsp;Leg&nbsp;4–8,&nbsp;&nbsp;</div>
<div class="a t" style="left:865.20px;top:767.73px;font-size:17.8px;line-height:21px;font-weight:400;color:#111;-webkit-text-stroke:0.2px #111;transform:scaleX(0.9299);transform-origin:0 50%">Short&nbsp;Leg&nbsp;5.5–9.5,&nbsp;</div>
<div class="a t" style="left:1006.00px;top:767.73px;font-size:17.8px;line-height:21px;font-weight:400;color:#111;-webkit-text-stroke:0.2px #111;transform:scaleX(0.9241);transform-origin:0 50%">Long&nbsp;Leg&nbsp;8–12</div>
<div class="a t" style="left:39.50px;top:790.13px;font-size:17.8px;line-height:21px;font-weight:700;color:#111;-webkit-text-stroke:0.3px #111;transform:scaleX(0.9442);transform-origin:0 50%">*&nbsp;Petite&nbsp;sizing&nbsp;(SP&nbsp;&amp;&nbsp;MP):&nbsp;</div>
<div class="a t" style="left:243.70px;top:790.13px;font-size:17.8px;line-height:21px;font-weight:400;color:#111;-webkit-text-stroke:0.2px #111;transform:scaleX(0.9845);transform-origin:0 50%">available&nbsp;in&nbsp;</div>
<div class="a t" style="left:336.25px;top:790.13px;font-size:17.8px;line-height:21px;font-weight:400;color:#111;-webkit-text-stroke:0.2px #111;transform:scaleX(0.9510);transform-origin:0 50%">closed&nbsp;toe&nbsp;only;&nbsp;</div>
<div class="a t" style="left:458.60px;top:790.13px;font-size:17.8px;line-height:21px;font-weight:400;color:#111;-webkit-text-stroke:0.2px #111;transform:scaleX(1.1125);transform-origin:0 50%">without&nbsp;grip-top,&nbsp;</div>
<div class="a t" style="left:605.00px;top:790.13px;font-size:17.8px;line-height:21px;font-weight:400;color:#111;-webkit-text-stroke:0.2px #111;transform:scaleX(0.9920);transform-origin:0 50%">20–30mmHg&nbsp;</div>
<div class="a t" style="left:711.00px;top:790.13px;font-size:17.8px;line-height:21px;font-weight:400;color:#111;-webkit-text-stroke:0.2px #111;transform:scaleX(1.0060);transform-origin:0 50%">only;&nbsp;</div>
<div class="a t" style="left:753.80px;top:790.13px;font-size:17.8px;line-height:21px;font-weight:400;color:#111;-webkit-text-stroke:0.2px #111;transform:scaleX(0.9647);transform-origin:0 50%">Natural,&nbsp;</div>
<div class="a t" style="left:818.70px;top:790.13px;font-size:17.8px;line-height:21px;font-weight:400;color:#111;-webkit-text-stroke:0.2px #111;transform:scaleX(1.0133);transform-origin:0 50%">Suntan,&nbsp;and&nbsp;</div>
<div class="a t" style="left:921.00px;top:790.13px;font-size:17.8px;line-height:21px;font-weight:400;color:#111;-webkit-text-stroke:0.2px #111;transform:scaleX(0.9866);transform-origin:0 50%">Black&nbsp;only;&nbsp;</div>
<div class="a t" style="left:1010.80px;top:790.13px;font-size:17.8px;line-height:21px;font-weight:400;color:#111;-webkit-text-stroke:0.2px #111;transform:scaleX(1.0562);transform-origin:0 50%">unavailable&nbsp;in&nbsp;</div>
<div class="a t" style="left:1131.00px;top:790.13px;font-size:17.8px;line-height:21px;font-weight:400;color:#111;-webkit-text-stroke:0.2px #111;transform:scaleX(0.8339);transform-origin:0 50%">Plus&nbsp;</div>
<div class="a t" style="left:1164.00px;top:790.13px;font-size:17.8px;line-height:21px;font-weight:400;color:#111;-webkit-text-stroke:0.2px #111;transform:scaleX(0.8994);transform-origin:0 50%">sizes</div>
</body></html>
